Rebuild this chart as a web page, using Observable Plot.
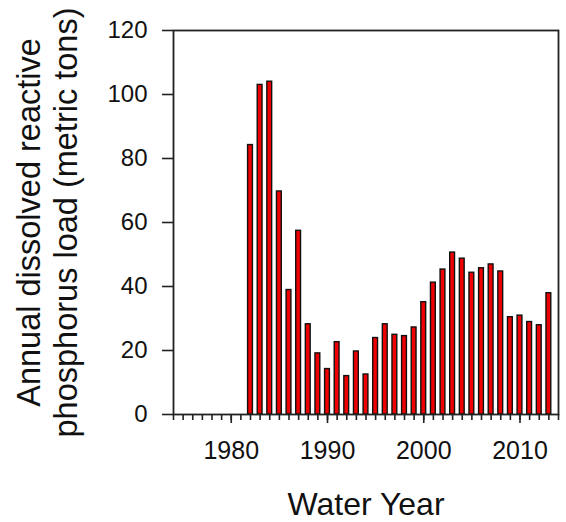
<!DOCTYPE html>
<html>
<head>
<meta charset="utf-8">
<script src="https://cdn.jsdelivr.net/npm/d3@7"></script>
<script src="https://cdn.jsdelivr.net/npm/@observablehq/plot@0.6"></script>
<style>
  html, body { margin: 0; padding: 0; background: #fff; }
</style>
</head>
<body>
<div id="chart"></div>
<script>
const years = [1982, 1983, 1984, 1985, 1986, 1987, 1988, 1989, 1990, 1991, 1992, 1993, 1994, 1995, 1996, 1997,
               1998, 1999, 2000, 2001, 2002, 2003, 2004, 2005, 2006, 2007, 2008, 2009, 2010, 2011, 2012, 2013];
const loads = [84.2, 103.0, 104.0, 69.7, 38.9, 57.4, 28.2, 19.1, 14.2, 22.6, 12.0, 19.7, 12.5, 23.9, 28.2, 24.9,
               24.5, 27.2, 35.1, 41.2, 45.3, 50.6, 48.7, 44.3, 45.7, 46.9, 44.7, 30.4, 30.9, 28.9, 27.9, 37.9];
const xMajorTicks = [1980, 1990, 2000, 2010];
const yTicks = [0, 20, 40, 60, 80, 100, 120];
const xDomain = [1974, 2014];
const yDomain = [0, 120];
const yLabel = "Annual dissolved reactive\nphosphorus load (metric tons)";
const xLabel = "Water Year";

const data = years.map((year, i) => ({year, load: loads[i]}));
const minorTicks = d3.range(xDomain[0], xDomain[1] + 1);

const font = "'Liberation Sans', Arial, Helvetica, sans-serif";

const chart = Plot.plot({
  width: 566,
  height: 522,
  marginLeft: 173,
  marginRight: 8,
  marginTop: 30,
  marginBottom: 108,
  style: {fontFamily: font, color: "#111", background: "#fff"},
  x: {type: "linear", domain: xDomain},
  y: {domain: yDomain},
  marks: [
    Plot.rectY(data, {
      x1: d => d.year - 0.5,
      x2: d => d.year + 0.5,
      y: "load",
      insetLeft: 2.4,
      insetRight: 2.4,
      fill: "#f00000",
      stroke: "#111",
      strokeWidth: 1.4
    }),
    Plot.axisX({ticks: minorTicks, tickSize: 6, tickFormat: () => "", label: null, stroke: "#222", strokeWidth: 1.6}),
    Plot.axisX({ticks: xMajorTicks, tickSize: 9, tickPadding: 18, tickFormat: d => String(d), fontSize: 25, label: null, stroke: "#222", strokeWidth: 1.6}),
    Plot.axisY({ticks: yTicks, tickSize: 11, tickPadding: 15, fontSize: 24, label: null, stroke: "#222", strokeWidth: 1.6}),
    Plot.frame({stroke: "#222", strokeWidth: 1.8}),
    Plot.text([yLabel], {
      frameAnchor: "left",
      rotate: -90,
      dx: -127,
      textAnchor: "middle",
      lineAnchor: "middle",
      lineHeight: 1.14,
      fontSize: 32.5,
      fill: "#111"
    }),
    Plot.text([xLabel], {
      frameAnchor: "bottom",
      dy: 90,
      textAnchor: "middle",
      lineAnchor: "middle",
      fontSize: 32,
      fill: "#111"
    })
  ]
});
document.getElementById("chart").appendChild(chart);
</script>
</body>
</html>
